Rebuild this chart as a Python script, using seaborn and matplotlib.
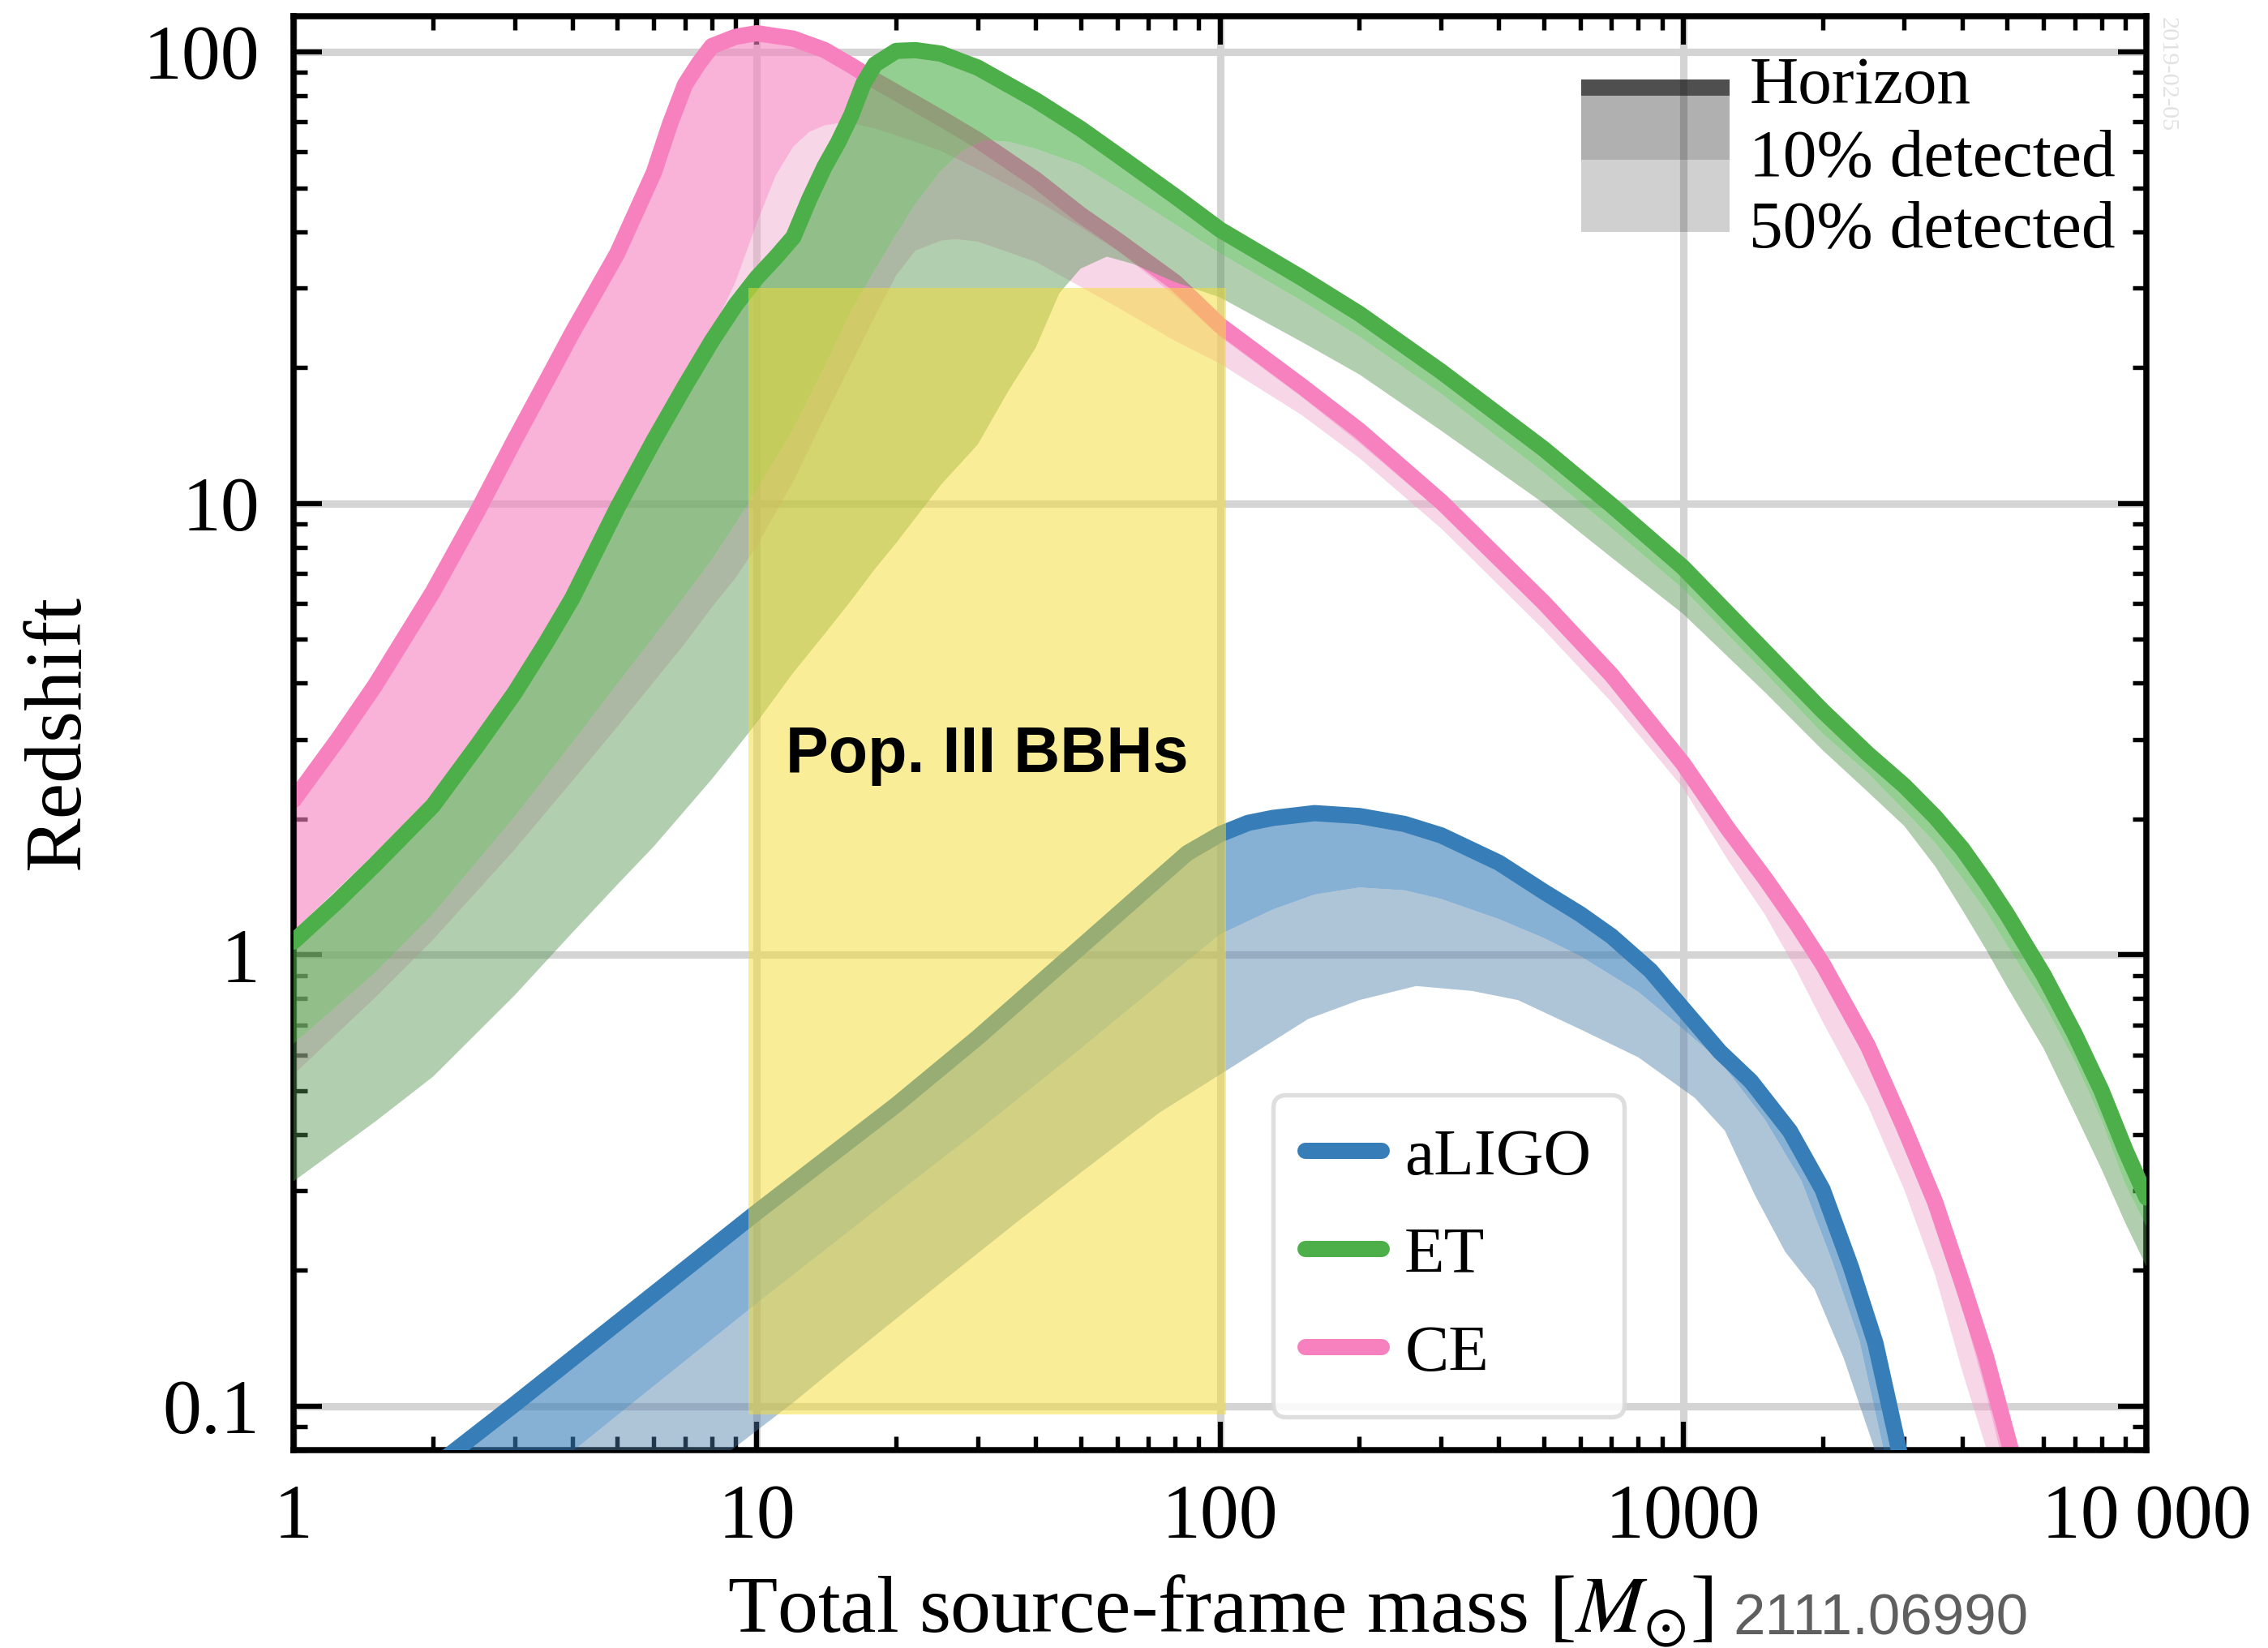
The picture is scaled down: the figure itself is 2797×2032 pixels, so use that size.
import numpy as np
import matplotlib
matplotlib.use("Agg")
import matplotlib.pyplot as plt
import seaborn as sns
from matplotlib.patches import Rectangle
from matplotlib.lines import Line2D
from matplotlib.ticker import LogLocator, NullFormatter

# ---------------- data: total source-frame mass [Msun] vs redshift ----------------
# Cosmic Explorer
ce_h_mass = [1, 1.25, 1.5, 2, 2.5, 3, 3.5, 4, 5, 6, 6.5, 7, 7.5, 8, 9, 10, 12, 14, 16, 18,
             20, 25, 30, 40, 50, 60, 80, 100, 150, 200, 300, 500, 700, 1000, 1250, 1500,
             1750, 2000, 2500, 3000, 3500, 4000, 4500, 5000, 5300]
ce_h_z = [2.20, 3.01, 3.95, 6.37, 9.64, 13.8, 18.5, 23.9, 35.8, 54.1, 69.3, 84.6, 94.4,
          103, 108, 110, 107, 101, 93.3, 86.5, 81.3, 71.3, 63.8, 52.2, 43.6, 38.3, 30.9,
          24.8, 18.2, 14.5, 10.1, 6.03, 4.17, 2.65, 1.90, 1.48, 1.18, 0.955, 0.631, 0.414,
          0.283, 0.188, 0.129, 0.0863, 0.069]
ce_10_mass = [1, 1.5, 2, 3, 4, 5, 6, 7, 8, 9, 10, 11, 12, 13, 14, 15, 16, 18, 20, 25, 30,
              40, 50, 60, 80, 100, 150, 200, 300, 500, 700, 1000, 1250, 1500, 1750, 2000,
              2500, 3000, 3500, 4000, 4500, 5000]
ce_10_z = [1.13, 1.68, 2.26, 4.03, 6.53, 10.4, 14.6, 19.3, 24.0, 30.9, 41.7, 53.3, 61.7,
           66.5, 68.7, 69.5, 69.5, 67.6, 65.3, 60.3, 55.0, 47.0, 40.9, 36.3, 28.8, 23.4,
           17.2, 13.6, 9.55, 5.69, 3.98, 2.51, 1.79, 1.38, 1.094, 0.881, 0.577, 0.376,
           0.255, 0.166, 0.107, 0.069]
ce_50_mass = [1, 1.5, 2, 3, 4, 5, 6, 7, 8, 9, 10, 12, 14, 16, 18, 20, 22, 25, 27, 30, 40,
              50, 60, 80, 100, 150, 200, 300, 500, 700, 1000, 1250, 1500, 1750, 2000, 2500,
              3000, 3500, 4000, 4500, 4600]
ce_50_z = [0.543, 0.804, 1.08, 1.71, 2.43, 3.20, 4.03, 4.90, 5.89, 6.84, 8.04, 11.2, 15.5,
           20.4, 26.0, 32.0, 36.3, 38.2, 38.5, 38.0, 34.3, 30.2, 27.2, 22.9, 20.4, 15.7,
           12.6, 8.81, 5.25, 3.63, 2.34, 1.62, 1.23, 0.93, 0.711, 0.465, 0.302, 0.195,
           0.120, 0.0813, 0.0708]

# Einstein Telescope
et_h_mass = [1, 1.25, 1.5, 2, 2.5, 3, 3.5, 4, 5, 6, 7, 8, 9, 10, 11, 12, 13, 14, 15, 16,
             17, 18, 20, 22, 25, 30, 40, 50, 60, 80, 100, 150, 200, 300, 500, 700, 1000,
             1500, 2000, 2500, 3000, 3500, 4000, 4500, 5000, 6000, 7000, 8000, 9000, 10000]
et_h_z = [1.07, 1.32, 1.585, 2.14, 2.92, 3.80, 4.89, 6.17, 9.77, 13.8, 18.2, 22.9, 27.5,
          31.6, 35.1, 38.9, 47.3, 55.6, 63.1, 72.4, 85.1, 93.8, 100.5, 100.9, 99.1, 92.3,
          78.2, 67.6, 59.2, 47.9, 40.4, 31.6, 26.3, 19.6, 13.2, 9.91, 7.21, 4.70, 3.47,
          2.79, 2.37, 2.02, 1.72, 1.45, 1.23, 0.902, 0.668, 0.50, 0.37, 0.29]
et_10_mass = [1, 1.5, 2, 3, 4, 5, 6, 7, 8, 9, 10, 12, 14, 16, 18, 20, 22, 25, 28, 31, 35,
              40, 50, 60, 80, 100, 150, 200, 300, 500, 700, 1000, 1500, 2000, 2500, 3000,
              3500, 4000, 4500, 5000, 6000, 7000, 8000, 9000, 10000]
et_10_z = [0.635, 0.912, 1.23, 2.02, 2.95, 3.98, 5.07, 6.24, 7.50, 9.02, 10.7, 14.6, 20.0,
           26.7, 32.9, 39.4, 46.0, 54.6, 60.7, 63.8, 63.2, 61.0, 56.2, 50.1, 41.5, 35.8,
           28.1, 23.4, 17.5, 11.7, 8.81, 6.46, 4.22, 3.09, 2.53, 2.09, 1.77, 1.48, 1.25,
           1.05, 0.78, 0.582, 0.43, 0.31, 0.25]
et_50_mass = [1, 1.5, 2, 3, 4, 5, 6, 7, 8, 9, 10, 12, 14, 16, 18, 20, 25, 30, 35, 40, 45,
              50, 57, 65, 80, 100, 150, 200, 300, 500, 700, 1000, 1500, 2000, 2500, 3000,
              3500, 4000, 4500, 5000, 6000, 7000, 8000, 9000, 10000]
et_50_z = [0.315, 0.427, 0.537, 0.813, 1.12, 1.43, 1.74, 2.09, 2.45, 2.85, 3.27, 4.22,
           5.13, 6.10, 7.16, 8.17, 11.0, 13.5, 17.8, 22.1, 29.2, 33.1, 35.2, 33.9, 30.9,
           28.6, 22.8, 19.3, 14.5, 10.0, 7.59, 5.69, 3.82, 2.84, 2.30, 1.93, 1.57, 1.26,
           1.03, 0.851, 0.62, 0.447, 0.335, 0.255, 0.204]

# Advanced LIGO
al_h_mass = [2, 3, 5, 10, 20, 30, 50, 70, 85, 100, 115, 130, 160, 200, 250, 300, 400, 500,
             600, 700, 850, 1000, 1200, 1400, 1700, 2000, 2300, 2600, 2900, 3000]
al_h_z = [0.0731, 0.101, 0.153, 0.269, 0.465, 0.656, 1.04, 1.41, 1.68, 1.85, 1.96, 2.01,
          2.06, 2.03, 1.95, 1.84, 1.60, 1.38, 1.23, 1.10, 0.923, 0.759, 0.610, 0.525,
          0.407, 0.302, 0.204, 0.138, 0.0832, 0.0692]
al_10_mass = [3.5, 4, 5, 7, 10, 15, 20, 30, 50, 70, 100, 130, 160, 200, 250, 300, 400, 500,
              600, 800, 1000, 1200, 1500, 1800, 2100, 2400, 2700, 2800]
al_10_z = [0.0713, 0.0794, 0.0955, 0.126, 0.169, 0.234, 0.295, 0.407, 0.619, 0.822, 1.11,
           1.26, 1.36, 1.41, 1.39, 1.33, 1.20, 1.09, 0.993, 0.828, 0.684, 0.582, 0.432,
           0.316, 0.209, 0.140, 0.0813, 0.0692]
al_50_mass = [8, 9, 12, 16, 25, 37, 50, 74, 100, 155, 200, 265, 350, 440, 600, 800, 1060,
              1230, 1430, 1660, 1920, 2220, 2580, 2630]
al_50_z = [0.0741, 0.0813, 0.102, 0.130, 0.188, 0.259, 0.329, 0.447, 0.543, 0.721, 0.794,
           0.853, 0.832, 0.794, 0.684, 0.593, 0.482, 0.408, 0.293, 0.220, 0.182, 0.128,
           0.0813, 0.0708]

# Population III binary black hole region
pop3_mass = [9.6, 103]
pop3_z = [0.096, 30]

detectors = ["aLIGO", "ET", "CE"]
x_ticks = [1, 10, 100, 1000, 10000]
x_ticklabels = ["1", "10", "100", "1000", "10\u2009000"]
y_ticks = [0.1, 1, 10, 100]
y_ticklabels = ["0.1", "1", "10", "100"]

# ---------------- styling ----------------
sns.set_theme(style="ticks")
plt.rcParams["font.family"] = ["Liberation Serif", "DejaVu Serif"]
plt.rcParams["mathtext.fontset"] = "stix"
plt.rcParams["text.color"] = "black"
plt.rcParams["axes.labelcolor"] = "black"
plt.rcParams["xtick.color"] = "black"
plt.rcParams["ytick.color"] = "black"

line_color = {"aLIGO": "#377eb8", "ET": "#4daf4a", "CE": "#f781bf"}
light_color = {"aLIGO": "#4d7ca8", "ET": "#52944f", "CE": "#efa4cc"}

fig = plt.figure(figsize=(2797 / 300, 2032 / 300), dpi=300)
ax = fig.add_axes([0.1294, 0.1201, 0.8170, 0.8701])
ax.set_xscale("log")
ax.set_yscale("log")


def band(m_up, z_up, m_lo, z_lo, color, alpha, zorder):
    xs = np.concatenate([np.asarray(m_up, float), np.asarray(m_lo, float)[::-1]])
    ys = np.concatenate([np.asarray(z_up, float), np.asarray(z_lo, float)[::-1]])
    ax.fill(xs, ys, color=color, alpha=alpha, lw=0, zorder=zorder)


curves = {
    "CE": (ce_h_mass, ce_h_z, ce_10_mass, ce_10_z, ce_50_mass, ce_50_z),
    "ET": (et_h_mass, et_h_z, et_10_mass, et_10_z, et_50_mass, et_50_z),
    "aLIGO": (al_h_mass, al_h_z, al_10_mass, al_10_z, al_50_mass, al_50_z),
}
base_z = {"CE": 2, "ET": 3, "aLIGO": 4}
for name in ["CE", "ET", "aLIGO"]:
    mh, zh, m10, z10, m50, z50 = curves[name]
    z0 = base_z[name]
    band(mh, zh, m10, z10, line_color[name], 0.6, z0)
    band(m10, z10, m50, z50, light_color[name], 0.45, z0)
    sns.lineplot(x=mh, y=zh, ax=ax, color=line_color[name], lw=4.8, sort=False,
                 estimator=None, zorder=z0 + 0.5, legend=False,
                 solid_joinstyle="round")

# Pop. III box
ax.fill_between(pop3_mass, pop3_z[0], pop3_z[1], color="#f7dd31", alpha=0.5, lw=0,
                zorder=5)
ax.text(np.sqrt(pop3_mass[0] * pop3_mass[1]), 2.77, "Pop. III BBHs",
        family=["Liberation Sans", "DejaVu Sans"], weight="bold", fontsize=19,
        ha="center", va="center", zorder=6)

# axes
ax.set_xlim(1, 1e4)
ax.set_ylim(0.08, 120)
ax.set_xticks(x_ticks)
ax.set_xticklabels(x_ticklabels)
ax.set_yticks(y_ticks)
ax.set_yticklabels(y_ticklabels)
for axis in (ax.xaxis, ax.yaxis):
    axis.set_minor_locator(LogLocator(base=10, subs=np.arange(2, 10), numticks=20))
    axis.set_minor_formatter(NullFormatter())
ax.tick_params(which="both", direction="in", top=True, right=True)
ax.tick_params(which="major", length=8.5, width=1.5, labelsize=23, pad=10)
ax.tick_params(which="minor", length=4, width=1.3)
for s in ax.spines.values():
    s.set_linewidth(1.8)
    s.set_color("black")
ax.grid(True, which="major", color="#d4d4d4", lw=2.2)
ax.set_axisbelow(True)

ax.set_xlabel("Total source-frame mass [$M_{\\odot}$]", fontsize=24, labelpad=5.5)
ax.set_ylabel("Redshift", fontsize=24, labelpad=14)

# detector legend
handles = [Line2D([], [], color=line_color[d], lw=4.8) for d in detectors]
leg = ax.legend(handles, detectors, loc="lower left", bbox_to_anchor=(0.5285, 0.023),
                borderaxespad=0, fontsize=19.5, handlelength=1.15, handletextpad=0.35,
                labelspacing=0.58, borderpad=0.5, frameon=True, fancybox=True,
                framealpha=0.85, edgecolor="#d9d9d9")
leg.get_frame().set_linewidth(1.3)
leg.set_zorder(7)

# horizon / detection-fraction key
key_x, key_w = 0.695, 0.080
ax.add_patch(Rectangle((key_x, 0.9446), key_w, 0.0113, transform=ax.transAxes,
                       color="black", alpha=0.69, lw=0, zorder=7))
ax.add_patch(Rectangle((key_x, 0.8999), key_w, 0.0447, transform=ax.transAxes,
                       color="black", alpha=0.31, lw=0, zorder=7))
ax.add_patch(Rectangle((key_x, 0.8495), key_w, 0.0504, transform=ax.transAxes,
                       color="black", alpha=0.184, lw=0, zorder=7))
for ty, label in zip([0.9395, 0.8886, 0.8388], ["Horizon", "10% detected", "50% detected"]):
    ax.text(0.7856, ty, label, transform=ax.transAxes, fontsize=20, va="baseline",
            ha="left", zorder=8)

fig.text(0.764, 0.0079, "2111.06990", family=["Liberation Sans", "DejaVu Sans"],
         fontsize=17, color="#5f5f5f", ha="left", va="baseline")
fig.text(0.9555, 0.9897, "2019-02-05", fontsize=7.3, color="#e2e2e2", rotation=270,
         ha="center", va="top")

fig.savefig("out.png", dpi=300)
